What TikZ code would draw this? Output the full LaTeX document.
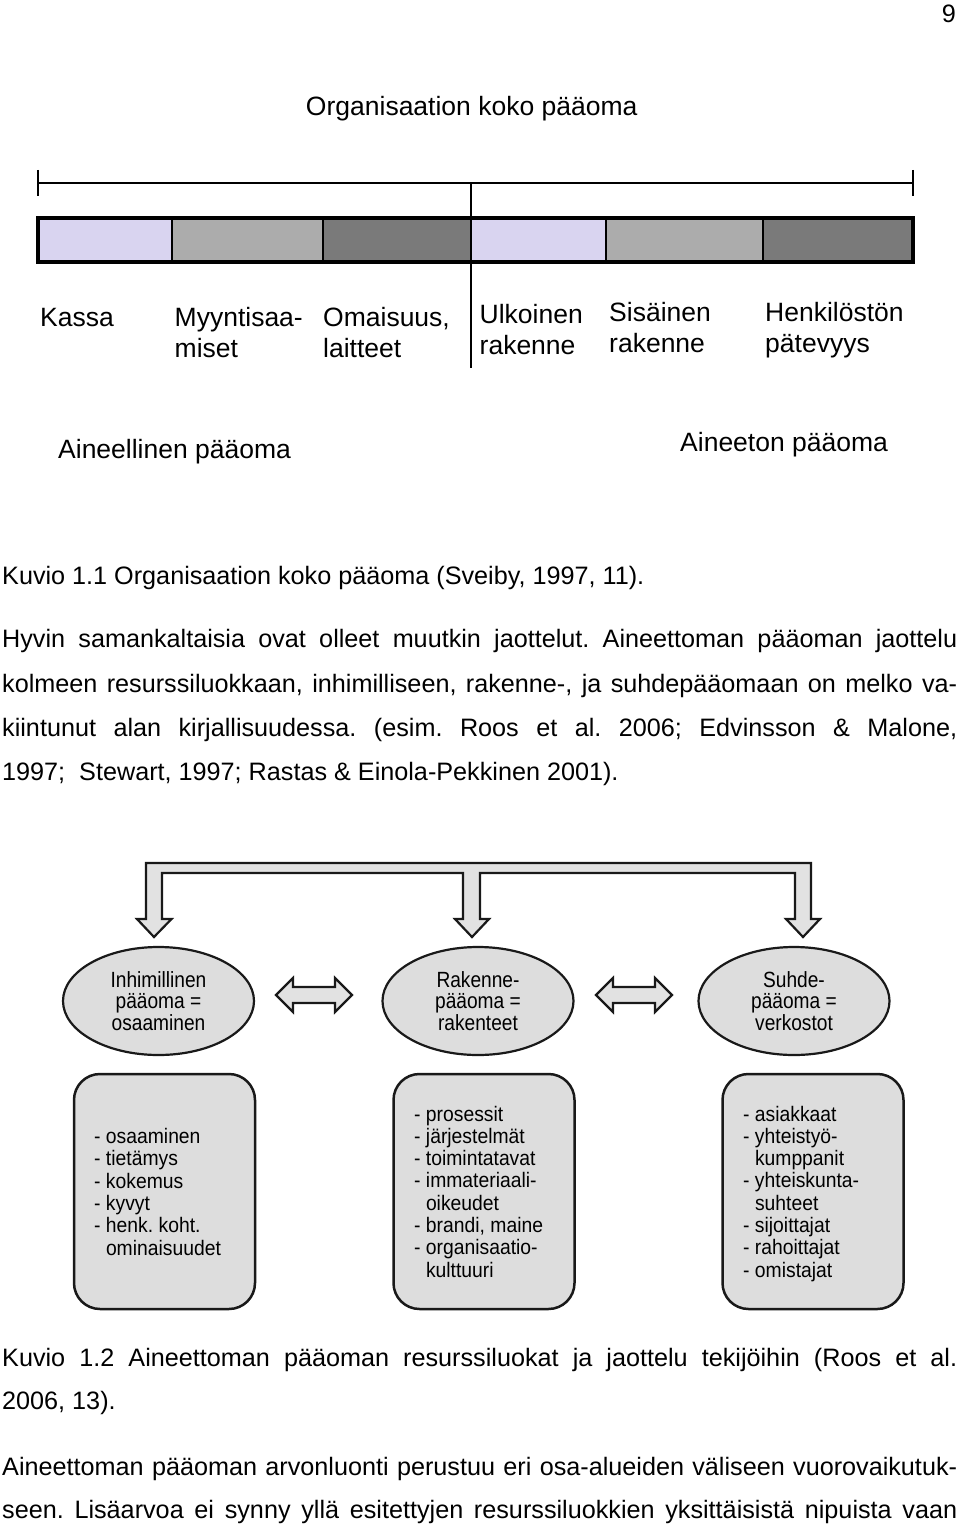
\documentclass[tikz,border=0pt]{standalone}
\usepackage{fontspec}
\setmainfont{Liberation Sans}
\newfontfamily\narrowfont[FakeStretch=0.87]{Liberation Sans}
\newfontfamily\listfont[FakeStretch=0.92]{Liberation Sans}
\usetikzlibrary{shapes.geometric}
\definecolor{lav}{RGB}{217,212,240}
\definecolor{lgray}{RGB}{172,172,172}
\definecolor{dgray}{RGB}{122,122,122}
\definecolor{shapefill}{RGB}{221,221,221}
\definecolor{arrowfill}{RGB}{226,226,226}
\definecolor{edgec}{RGB}{25,25,25}
\begin{document}
\frenchspacing
\begin{tikzpicture}[x=1pt,y=-1pt,
  txt/.style={inner sep=0pt, anchor=base west},
  bodytxt/.style={txt, font=\frenchspacing\fontsize{25.2}{30}\selectfont},
  toplab/.style={txt, font=\fontsize{26.5}{31}\selectfont},
  boxtxt/.style={txt, font=\frenchspacing\listfont\fontsize{21}{22}\selectfont},
  capital/.style={ellipse, draw=edgec, line width=2.2pt, fill=shapefill,
    minimum width=191pt, minimum height=108pt, inner sep=0pt, align=center,
    font=\narrowfont\fontsize{22}{21.5}\selectfont},
  listbox/.style={rectangle, rounded corners=26pt, draw=edgec, line width=2.5pt,
    fill=shapefill, minimum width=181pt, minimum height=235pt},
  fatarrow/.style={draw=edgec, line width=2.2pt, fill=arrowfill, line join=miter},
  sepline/.style={draw=black, line width=1.5pt},
]
\useasboundingbox (0,0) rectangle (960,1525);
\fill[white] (0,0) rectangle (960,1525);

% page number
\node[bodytxt, anchor=base east] (pg) at (956,23) {9};

% ---------- Figure 1.1 ----------
\node[inner sep=0pt, anchor=base, font=\fontsize{26.5}{31}\selectfont] (title) at (471.7,116) {Organisaation koko pääoma};

\draw[line width=2.8pt] (38,183) -- (913,183);
\draw[line width=2.8pt] (38,170) -- (38,196);
\draw[line width=2.8pt] (913,170) -- (913,196);

\fill[lav]   (38,218) rectangle (172,262);
\fill[lgray] (172,218) rectangle (323,262);
\fill[dgray] (323,218) rectangle (471,262);
\fill[lav]   (471,218) rectangle (606,262);
\fill[lgray] (606,218) rectangle (763,262);
\fill[dgray] (763,218) rectangle (913,262);
\draw[sepline] (172,218) -- (172,262);
\draw[sepline] (323,218) -- (323,262);
\draw[sepline] (606,218) -- (606,262);
\draw[sepline] (763,218) -- (763,262);
\draw[line width=3.5pt] (38,218) rectangle (913,262);
\draw[line width=2.5pt] (471,183) -- (471,368);

\node[toplab] (k1) at (40,326) {Kassa};
\node[toplab] (k2a) at (174.5,326) {Myyntisaa-};
\node[toplab] (k2b) at (174.5,357) {miset};
\node[toplab] (k3a) at (323,326) {Omaisuus,};
\node[toplab] (k3b) at (323,357) {laitteet};
\node[toplab] (k4a) at (479.5,323) {Ulkoinen};
\node[toplab] (k4b) at (479.5,354) {rakenne};
\node[toplab] (k5a) at (609,321.5) {Sisäinen};
\node[toplab] (k5b) at (609,352.5) {rakenne};
\node[toplab] (k6a) at (765,321.5) {Henkilöstön};
\node[toplab] (k6b) at (765,352.5) {pätevyys};

\node[toplab] (tang) at (58,458) {Aineellinen pääoma};
\node[toplab] (intang) at (680,451) {Aineeton pääoma};

% ---------- text ----------
\node[bodytxt] (cap1) at (2,584) {Kuvio 1.1 Organisaation koko pääoma (Sveiby, 1997, 11).};
\node[bodytxt] (p1) at (2,647) {\makebox[955pt][s]{Hyvin samankaltaisia ovat olleet muutkin jaottelut. Aineettoman pääoman jaottelu}};
\node[bodytxt] (p2) at (2,692) {\makebox[955pt][s]{kolmeen resurssiluokkaan, inhimilliseen, rakenne-, ja suhdepääomaan on melko va-}};
\node[bodytxt] (p3) at (2,736) {\makebox[955pt][s]{kiintunut alan kirjallisuudessa. (esim. Roos et al. 2006; Edvinsson \& Malone,}};
\node[bodytxt] (p4) at (2,780) {1997; \ Stewart, 1997; Rastas \& Einola-Pekkinen 2001).};

% ---------- Figure 1.2 ----------
\draw[fatarrow]
  (146,863) -- (811,863) -- (811,919) -- (820,919) -- (803,937) -- (786,919) -- (795,919)
  -- (795,873) -- (480,873) -- (480,919) -- (489,919) -- (472,937) -- (455,919) -- (463,919)
  -- (463,873) -- (162,873) -- (162,919) -- (171.5,919) -- (154,937) -- (137,919) -- (146,919)
  -- cycle;

\node[capital] (e1) at (158.5,1001) {Inhimillinen\\pääoma =\\osaaminen};
\node[capital] (e2) at (478,1001) {Rakenne-\\pääoma =\\rakenteet};
\node[capital] (e3) at (794,1001) {Suhde-\\pääoma =\\verkostot};

\draw[fatarrow] (276,995) -- (293,978) -- (293,987) -- (335,987) -- (335,978) -- (352,995)
  -- (335,1012) -- (335,1003) -- (293,1003) -- (293,1012) -- cycle;
\draw[fatarrow] (596,995) -- (613,978) -- (613,987) -- (655,987) -- (655,978) -- (672,995)
  -- (655,1012) -- (655,1003) -- (613,1003) -- (613,1012) -- cycle;

\node[listbox] (b1) at (164.5,1191.5) {};
\node[listbox] (b2) at (484,1191.5) {};
\node[listbox] (b3) at (813,1191.5) {};

\foreach \t [count=\i] in {{- osaaminen},{- tietämys},{- kokemus},{- kyvyt},{- henk. koht.},{\phantom{- }ominaisuudet}}
  \node[boxtxt] (la\i) at (94,{1143.5+22.3*(\i-1)}) {\t};
\foreach \t [count=\i] in {{- prosessit},{- järjestelmät},{- toimintatavat},{- immateriaali-},{\phantom{- }oikeudet},{- brandi, maine},{- organisaatio-},{\phantom{- }kulttuuri}}
  \node[boxtxt] (lb\i) at (414,{1121+22.3*(\i-1)}) {\t};
\foreach \t [count=\i] in {{- asiakkaat},{- yhteistyö-},{\phantom{- }kumppanit},{- yhteiskunta-},{\phantom{- }suhteet},{- sijoittajat},{- rahoittajat},{- omistajat}}
  \node[boxtxt] (lc\i) at (743,{1121+22.3*(\i-1)}) {\t};

% ---------- text ----------
\node[bodytxt] (cap2a) at (2,1366) {\makebox[955pt][s]{Kuvio 1.2 Aineettoman pääoman resurssiluokat ja jaottelu tekijöihin (Roos et al.}};
\node[bodytxt] (cap2b) at (2,1409) {2006, 13).};
\node[bodytxt] (q1) at (2,1475) {\makebox[955pt][s]{Aineettoman pääoman arvonluonti perustuu eri osa-alueiden väliseen vuorovaikutuk-}};
\node[bodytxt] (q2) at (2,1518) {\makebox[955pt][s]{seen. Lisäarvoa ei synny yllä esitettyjen resurssiluokkien yksittäisistä nipuista vaan}};
\end{tikzpicture}
\end{document}
